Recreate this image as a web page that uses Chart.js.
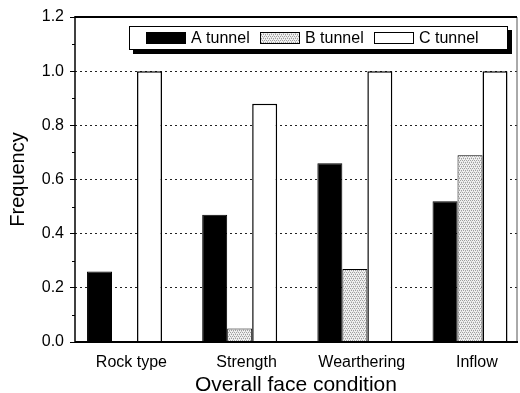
<!DOCTYPE html>
<html>
<head>
<meta charset="utf-8">
<script src="https://cdn.jsdelivr.net/npm/chart.js@4/dist/chart.umd.min.js"></script>
<style>
  html, body { margin: 0; padding: 0; background: #fff; }
  #grafica { width: 520px; height: 393px; }
</style>
</head>
<body>
<div id="grafica"><canvas id="myChart"></canvas></div>
<script>
var categorias = ['Rock type', 'Strength', 'Wearthering', 'Inflow'];
var a_tunnel = [0.26, 0.47, 0.66, 0.52];
var b_tunnel = [0, 0.05, 0.27, 0.69];
var c_tunnel = [1.0, 0.88, 1.0, 1.0];
var y_ticks = [0, 0.2, 0.4, 0.6, 0.8, 1.0, 1.2];

var fuente = 'Liberation Sans, Arial, sans-serif';

// textura punteada para la serie B
function punteado() {
    var c = document.createElement('canvas');
    c.width = 4; c.height = 4;
    var g = c.getContext('2d');
    g.fillStyle = '#f0f0f0';
    g.fillRect(0, 0, 4, 4);
    g.fillStyle = '#a0a0a0';
    g.fillRect(0, 0, 1, 1);
    g.fillRect(2, 0, 1, 1);
    g.fillRect(1, 2, 1, 1);
    g.fillRect(3, 2, 1, 1);
    g.fillStyle = '#c8c8c8';
    g.fillRect(3, 1, 1, 1);
    g.fillRect(1, 3, 1, 1);
    return g.createPattern(c, 'repeat');
}
var patronB = punteado();

function puntos(arr) {
    return arr.map(function (v, i) { return { x: i, y: v }; });
}

// marco, ticks menores y leyenda
var marco = {
    id: 'marco',
    afterDatasetsDraw: function (chart) {
        var ctx = chart.ctx, a = chart.chartArea, y = chart.scales.y;
        ctx.save();
        ctx.lineWidth = 1;
        ctx.strokeStyle = '#555';
        ctx.beginPath(); ctx.moveTo(a.right, a.top); ctx.lineTo(a.right, a.bottom); ctx.stroke();
        ctx.strokeStyle = '#000';
        ctx.lineWidth = 2;
        ctx.beginPath(); ctx.moveTo(a.left, a.top); ctx.lineTo(a.right, a.top); ctx.stroke();
        ctx.beginPath(); ctx.moveTo(a.left, a.bottom); ctx.lineTo(a.right + 1, a.bottom); ctx.stroke();
        ctx.lineWidth = 1.5;
        ctx.beginPath(); ctx.moveTo(a.left, a.top - 1); ctx.lineTo(a.left, a.bottom + 1); ctx.stroke();
        // ticks menores
        ctx.lineWidth = 1;
        for (var k = 0; k < y_ticks.length - 1; k++) {
            var py = Math.round(y.getPixelForValue((y_ticks[k] + y_ticks[k + 1]) / 2)) + 0.5;
            ctx.beginPath(); ctx.moveTo(a.left - 3, py); ctx.lineTo(a.left, py); ctx.stroke();
        }
        ctx.restore();
    },
    afterDraw: function (chart) {
        var ctx = chart.ctx;
        var x0 = 129, y0 = 26, w = 379, h = 24;
        ctx.save();
        ctx.fillStyle = '#000';
        ctx.fillRect(x0 + 4, y0 + 4, w, h);
        ctx.fillStyle = '#fff';
        ctx.fillRect(x0, y0, w, h);
        ctx.strokeStyle = '#000';
        ctx.lineWidth = 1;
        ctx.strokeRect(x0 + 0.5, y0 + 0.5, w - 1, h - 1);
        var cajas = [146, 260, 374];
        ctx.font = '16px ' + fuente;
        ctx.textBaseline = 'middle';
        chart.data.datasets.forEach(function (ds, i) {
            var bx = cajas[i];
            ctx.fillStyle = ds.backgroundColor;
            ctx.fillRect(bx, 32, 40, 12);
            ctx.strokeStyle = '#000';
            ctx.lineWidth = 1;
            ctx.strokeRect(bx + 0.5, 32.5, 39, 11);
            ctx.fillStyle = '#000';
            ctx.fillText(ds.label, bx + 45, 38.5);
        });
        ctx.restore();
    }
};

var ctx = document.getElementById('myChart').getContext('2d');
new Chart(ctx, {
    type: 'bar',
    data: {
        datasets: [{
            label: 'A tunnel',
            data: puntos(a_tunnel),
            backgroundColor: '#000',
            borderColor: '#000',
            borderWidth: 1
        }, {
            label: 'B tunnel',
            data: puntos(b_tunnel),
            backgroundColor: patronB,
            borderColor: '#000',
            borderWidth: 1
        }, {
            label: 'C tunnel',
            data: puntos(c_tunnel),
            backgroundColor: '#fff',
            borderColor: '#000',
            borderWidth: 1.5
        }]
    },
    options: {
        responsive: true,
        maintainAspectRatio: false,
        animation: false,
        categoryPercentage: 0.651,
        barPercentage: 1,
        layout: { padding: { top: 17, right: 3, left: 0, bottom: 0 } },
        plugins: {
            legend: { display: false },
            tooltip: { enabled: false }
        },
        scales: {
            x: {
                type: 'linear',
                min: -0.43,
                max: 3.408,
                offset: false,
                afterBuildTicks: function (scale) {
                    scale.ticks = categorias.map(function (c, i) { return { value: i + 0.06 }; });
                },
                afterFit: function (scale) { scale.height = 51; },
                grid: { display: false, drawTicks: false },
                border: { display: false },
                ticks: {
                    padding: 11,
                    maxRotation: 0,
                    autoSkip: false,
                    color: '#000',
                    font: { family: fuente, size: 16 },
                    callback: function (v) { return categorias[Math.round(v)]; }
                },
                title: {
                    display: true,
                    text: 'Overall face condition',
                    color: '#000',
                    font: { family: fuente, size: 21, lineHeight: 0.75 },
                    padding: { top: 0, bottom: 0 }
                }
            },
            y: {
                min: 0,
                max: 1.2,
                afterBuildTicks: function (scale) {
                    scale.ticks = y_ticks.map(function (v) { return { value: v }; });
                },
                afterFit: function (scale) { scale.width = 75; },
                border: { display: false, dash: [2, 3] },
                grid: {
                    color: function (c) {
                        var v = c.tick ? c.tick.value : 0;
                        return (v === 0 || v === 1.2) ? 'rgba(0,0,0,0)' : '#222';
                    },
                    lineWidth: 1,
                    tickColor: '#000',
                    tickBorderDash: [],
                    tickLength: 5
                },
                ticks: {
                    padding: 6,
                    color: '#000',
                    font: { family: fuente, size: 16 },
                    callback: function (v) { return v.toFixed(1); }
                },
                title: {
                    display: true,
                    text: 'Frequency',
                    color: '#000',
                    font: { family: fuente, size: 20 },
                    padding: { top: 6, bottom: 0 }
                }
            }
        }
    },
    plugins: [marco]
});
</script>
</body>
</html>
